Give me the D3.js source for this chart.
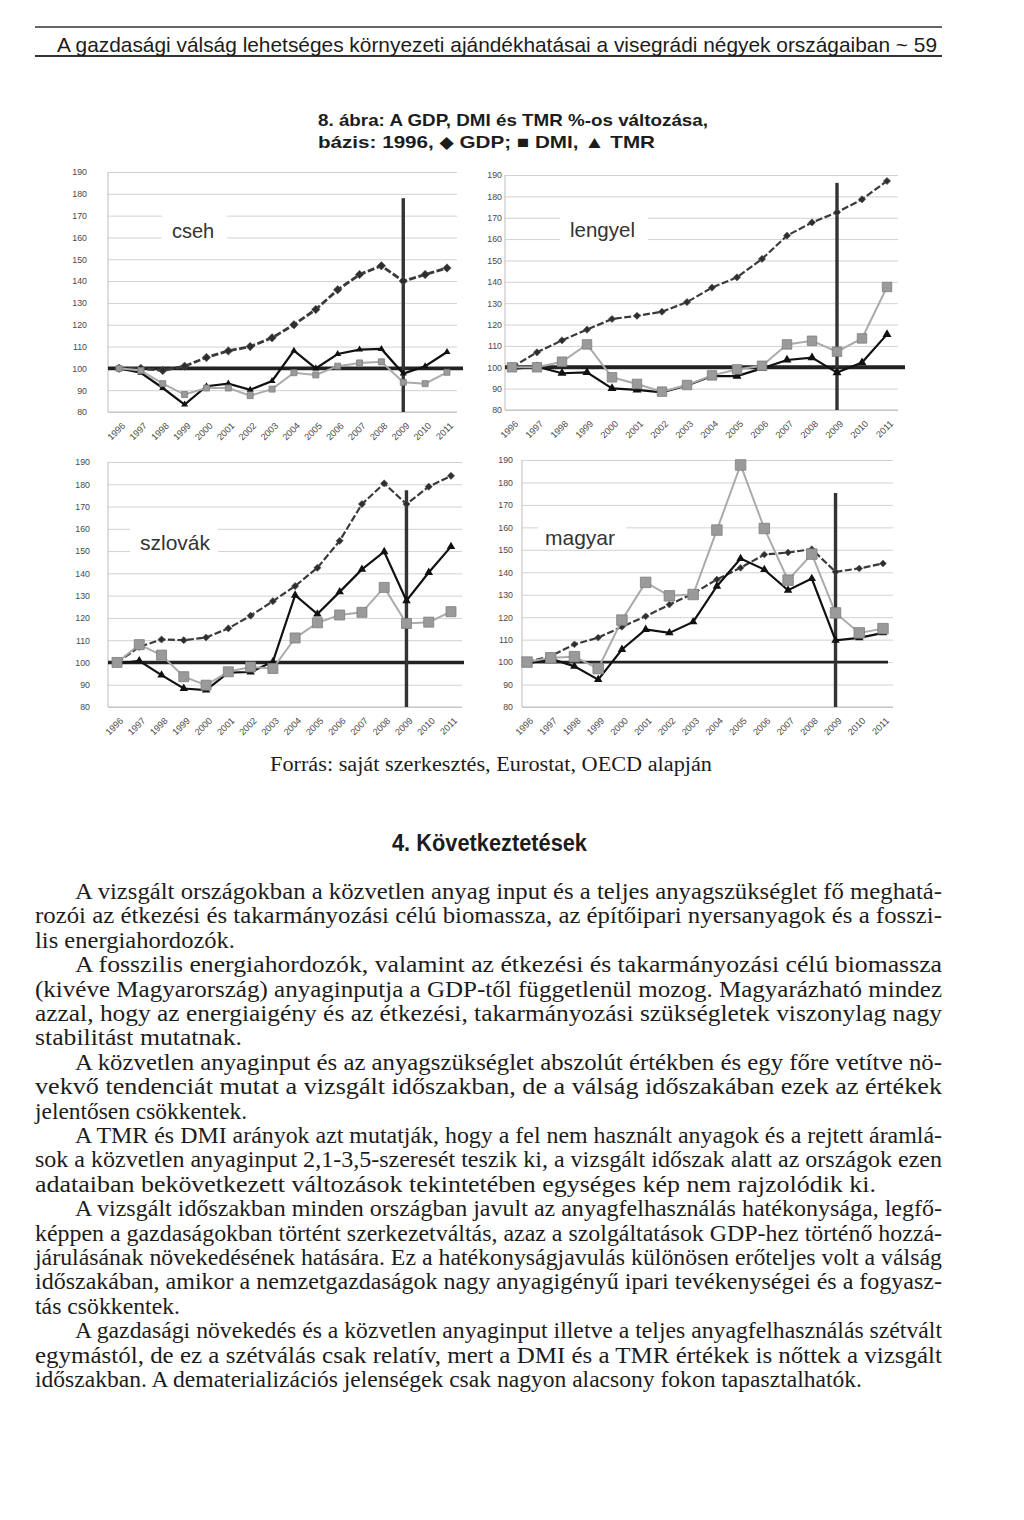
<!DOCTYPE html>
<html><head><meta charset="utf-8">
<script src="https://cdn.jsdelivr.net/npm/d3@7"></script>
<style>body{margin:0;background:#fff}</style>
</head><body>
<svg id="c" width="1024" height="1520" xmlns="http://www.w3.org/2000/svg"></svg>
<script>
// ---------- DATA ----------
const years = ["1996","1997","1998","1999","2000","2001","2002","2003","2004","2005","2006","2007","2008","2009","2010","2011"];
const yTicks = [80,90,100,110,120,130,140,150,160,170,180,190];
const countries = ["cseh","lengyel","szlovák","magyar"];

const csehGDP = [100,100,99,101,105,108,110,114,120,127,136,143,147,140,143,146];
const csehDMI = [100,99,93,88,91,91,87.5,90.5,98,97,101,102.5,103,93.6,93,98.2];
const csehTMR = [100,98,91,83.4,91.8,93,90.2,94.2,108.1,100,106.6,108.6,108.9,97.6,101,107.5];

const lengyelGDP = [100,107,112.6,117.6,122.6,124.1,126,130.5,137.3,142.1,150.7,161.6,167.8,172.5,178.6,187.2];
const lengyelDMI = [100,100,102.6,110.7,95.3,92.2,88.6,91.7,96.2,99,100.7,110.7,112.4,107.3,113.5,137.6];
const lengyelTMR = [99.2,100.3,97.2,97.6,90.1,89.4,88.3,91.5,95.9,95.9,99.5,103.4,104.5,97.5,102.2,115.4];

const szlovakGDP = [100,107,110.3,110,111.2,115.3,121,127.5,134.3,142.5,154.6,171.1,180.4,171.1,178.9,183.8];
const szlovakDMI = [100,108,103.3,93.6,89.8,95.8,98,97.3,111,117.8,121.3,122.5,133.7,117.5,118.1,122.8];
const szlovakTMR = [99.5,100.7,94.3,88.3,87.6,95.4,95.7,100.3,130.2,121.7,131.7,141.8,149.7,127.7,140.4,152];

const magyarGDP = [100,102.7,107.9,110.9,115.7,120.4,125.6,130.5,136.8,142,147.9,148.8,150.3,140.2,141.7,143.9];
const magyarDMI = [100,101.9,102.4,97.1,118.7,135.5,129.5,130.1,158.8,187.8,159.5,136.5,148.1,121.9,113,114.9];
const magyarTMR = [99.3,101.5,98.1,92.2,105.6,114.5,113,117.9,133.8,146.1,141.2,132,137.2,109.7,110.8,113];

const baseValue = 100;
const crisisYear = "2009";

// ---------- LAYOUT ----------
const svg = d3.select("#c");
svg.append("rect").attr("width",1024).attr("height",1520).attr("fill","#fff");

const panels = [
  {name:countries[0], gdp:csehGDP, dmi:csehDMI, tmr:csehTMR,
   left:108,right:457,top:172,bottom:412,x0:119,x1:447,pad:21,baseEnd:463,vTop:178,bw:3.8,
   lab:{x:172,y:238,fs:20}, rect:[162,205,65,42], dS:4.2, sqS:6, trS:7, gw:2.8},
  {name:countries[1], gdp:lengyelGDP, dmi:lengyelDMI, tmr:lengyelTMR,
   left:505,right:898,top:175,bottom:410,x0:512,x1:887,pad:3,baseEnd:905,vTop:186.3,bw:3.8,
   lab:{x:570,y:237,fs:20.5}, rect:[560,208,88,42], dS:3.6, sqS:9.5, trS:9, gw:2.2},
  {name:countries[2], gdp:szlovakGDP, dmi:szlovakDMI, tmr:szlovakTMR,
   left:108,right:462,top:462,bottom:707,x0:117,x1:451,pad:18,baseEnd:464,vTop:177.3,bw:3.6,
   lab:{x:140,y:550,fs:21}, rect:[130,518,88,42], dS:3.6, sqS:10, trS:8.5, gw:2.2},
  {name:countries[3], gdp:magyarGDP, dmi:magyarDMI, tmr:magyarTMR,
   left:522,right:893,top:460,bottom:707,x0:527,x1:883,pad:9,baseEnd:888,vTop:175.3,bw:2.8,
   lab:{x:545,y:545,fs:21}, rect:[538,512,88,35], dS:3.4, sqS:10.5, trS:8.5, gw:2.2}
];

const tickFont = "'Liberation Sans', Arial, sans-serif";

panels.forEach(p => {
  const g = svg.append("g");
  const x = d3.scalePoint().domain(years).range([p.x0, p.x1]);
  const y = d3.scaleLinear().domain([80,190]).range([p.bottom, p.top]);

  // y axis with gridlines
  const ya = g.append("g").attr("transform",`translate(${p.left},0)`)
    .call(d3.axisLeft(y).tickValues(yTicks).tickSize(-(p.right-p.left)).tickPadding(p.pad));
  ya.select(".domain").remove();
  ya.selectAll(".tick line").attr("stroke","#d2d2d2").attr("stroke-width",1);
  ya.selectAll(".tick text").attr("fill","#4a4a4a").style("font-family",tickFont).style("font-size","8.8px");

  // label background (white box breaking grid)
  g.append("rect").attr("x",p.rect[0]).attr("y",p.rect[1]).attr("width",p.rect[2]).attr("height",p.rect[3]).attr("fill","#fff");
  g.append("text").attr("x",p.lab.x).attr("y",p.lab.y).text(p.name)
    .attr("fill","#333").style("font-family",tickFont).style("font-size",p.lab.fs+"px");

  // plot frame left + bottom
  g.append("line").attr("x1",p.left).attr("x2",p.left).attr("y1",y(190)).attr("y2",y(80)).attr("stroke","#bdbdbd");
  g.append("line").attr("x1",p.left).attr("x2",p.right).attr("y1",y(80)).attr("y2",y(80)).attr("stroke","#bdbdbd");

  // x axis labels
  const xa = g.append("g").attr("transform",`translate(0,${p.bottom})`)
    .call(d3.axisBottom(x).tickSize(0).tickPadding(0));
  xa.select(".domain").remove();
  xa.selectAll(".tick text").attr("y",0).attr("dy","0.35em")
    .attr("text-anchor","end").attr("transform","translate(4,12) rotate(-45)")
    .attr("fill","#4a4a4a").style("font-family",tickFont).style("font-size","9.2px");

  // base 100 line and crisis line
  g.append("line").attr("x1",p.left).attr("x2",p.baseEnd).attr("y1",y(baseValue)).attr("y2",y(baseValue))
    .attr("stroke","#222").attr("stroke-width",p.bw);
  g.append("line").attr("x1",x(crisisYear)).attr("x2",x(crisisYear)).attr("y1",y(p.vTop)).attr("y2",y(80))
    .attr("stroke","#333").attr("stroke-width",3.4);

  const line = d3.line().x((d,i)=>x(years[i])).y(d=>y(d));

  // GDP
  g.append("path").attr("d",line(p.gdp)).attr("fill","none").attr("stroke","#3a3a3a")
    .attr("stroke-width",p.gw).attr("stroke-dasharray","7,2.5");
  g.selectAll(null).data(p.gdp).enter().append("path")
    .attr("d",d3.symbol().type(d3.symbolSquare).size(2*p.dS*p.dS))
    .attr("transform",(d,i)=>`translate(${x(years[i])},${y(d)}) rotate(45)`)
    .attr("fill","#2e2e2e").attr("stroke","#555").attr("stroke-width",0.6);

  // TMR
  g.append("path").attr("d",line(p.tmr)).attr("fill","none").attr("stroke","#111").attr("stroke-width",2.2);
  g.selectAll(null).data(p.tmr).enter().append("path")
    .attr("d",d3.symbol().type(d3.symbolTriangle).size(p.trS*p.trS*Math.sqrt(3)/4))
    .attr("transform",(d,i)=>`translate(${x(years[i])},${y(d)})`)
    .attr("fill","#111");

  // DMI
  g.append("path").attr("d",line(p.dmi)).attr("fill","none").attr("stroke","#ababab").attr("stroke-width",2);
  g.selectAll(null).data(p.dmi).enter().append("path")
    .attr("d",d3.symbol().type(d3.symbolSquare).size(p.sqS*p.sqS))
    .attr("transform",(d,i)=>`translate(${x(years[i])},${y(d)})`)
    .attr("fill","#9a9a9a").attr("stroke","#7d7d7d").attr("stroke-width",0.8);
});

// ---------- PAGE TEXT ----------
const ink = "#1c1c1c";
const narrow = "'Liberation Sans Narrow','Liberation Sans','DejaVu Sans Condensed',Arial,sans-serif";
const serif = "'Liberation Serif','Times New Roman',serif";

function txt(t, x, y, w, fam, size, weight, anchor){
  const el = svg.append("text").attr("x",x).attr("y",y).text(t)
    .attr("fill",ink).style("font-family",fam).style("font-size",size+"px")
    .style("font-weight",weight||"normal");
  if (w) el.attr("textLength",w).attr("lengthAdjust","spacingAndGlyphs");
  if (anchor) el.attr("text-anchor",anchor);
  return el;
}

// running header
svg.append("line").attr("x1",35).attr("x2",942).attr("y1",27).attr("y2",27).attr("stroke","#333").attr("stroke-width",1.4);
svg.append("line").attr("x1",35).attr("x2",942).attr("y1",56).attr("y2",56).attr("stroke","#333").attr("stroke-width",2);
txt("A gazdasági válság lehetséges környezeti ajándékhatásai a visegrádi négyek országaiban  ~  59", 57, 52, 880, narrow, 21);

// figure title
txt("8. ábra: A GDP, DMI és TMR %-os változása,", 318, 126, 390, narrow, 17, "bold");
txt("bázis: 1996, \u25C6 GDP; \u25A0 DMI, \u25B2 TMR", 318, 148, 337, narrow, 17, "bold");

// source
txt("Forrás: saját szerkesztés, Eurostat, OECD alapján", 270, 771, 442, serif, 20);

// section heading
txt("4. Következtetések", 392, 851, 195, narrow, 23, "bold");

// body text
const bodyLines = [
  ["A vizsgált országokban a közvetlen anyag input és a teljes anyagszükséglet fő meghatá-", 1, 0],
  ["rozói az étkezési és takarmányozási célú biomassza, az építőipari nyersanyagok és a fosszi-", 0, 0],
  ["lis energiahordozók.", 0, 200],
  ["A fosszilis energiahordozók, valamint az étkezési és takarmányozási célú biomassza", 1, 0],
  ["(kivéve Magyarország) anyaginputja a GDP-től függetlenül mozog. Magyarázható mindez", 0, 0],
  ["azzal, hogy az energiaigény és az étkezési, takarmányozási szükségletek viszonylag nagy", 0, 0],
  ["stabilitást mutatnak.", 0, 207],
  ["A közvetlen anyaginput és az anyagszükséglet abszolút értékben és egy főre vetítve nö-", 1, 0],
  ["vekvő tendenciát mutat a vizsgált időszakban, de a válság időszakában ezek az értékek", 0, 0],
  ["jelentősen csökkentek.", 0, 212],
  ["A TMR és DMI arányok azt mutatják, hogy a fel nem használt anyagok és a rejtett áramlá-", 1, 0],
  ["sok a közvetlen anyaginput 2,1-3,5-szeresét teszik ki, a vizsgált időszak alatt az országok ezen", 0, 0],
  ["adataiban bekövetkezett változások tekintetében egységes kép nem rajzolódik ki.", 0, 841],
  ["A vizsgált időszakban minden országban javult az anyagfelhasználás hatékonysága, legfő-", 1, 0],
  ["képpen a gazdaságokban történt szerkezetváltás, azaz a szolgáltatások GDP-hez történő hozzá-", 0, 0],
  ["járulásának növekedésének hatására. Ez a hatékonyságjavulás különösen erőteljes volt a válság", 0, 0],
  ["időszakában, amikor a nemzetgazdaságok nagy anyagigényű ipari tevékenységei és a fogyasz-", 0, 0],
  ["tás csökkentek.", 0, 145],
  ["A gazdasági növekedés és a közvetlen anyaginput illetve a teljes anyagfelhasználás szétvált", 1, 0],
  ["egymástól, de ez a szétválás csak relatív, mert a DMI és a TMR értékek is nőttek a vizsgált", 0, 0],
  ["időszakban. A dematerializációs jelenségek csak nagyon alacsony fokon tapasztalhatók.", 0, 827]
];
const leftM = 35, rightM = 942, indentX = 75;
bodyLines.forEach((l,i) => {
  const x0 = l[1] ? indentX : leftM;
  const w = l[2] ? l[2] : (rightM - x0);
  txt(l[0], x0, 899 + i*24.4, w, serif, 22.5);
});
</script>
</body></html>
